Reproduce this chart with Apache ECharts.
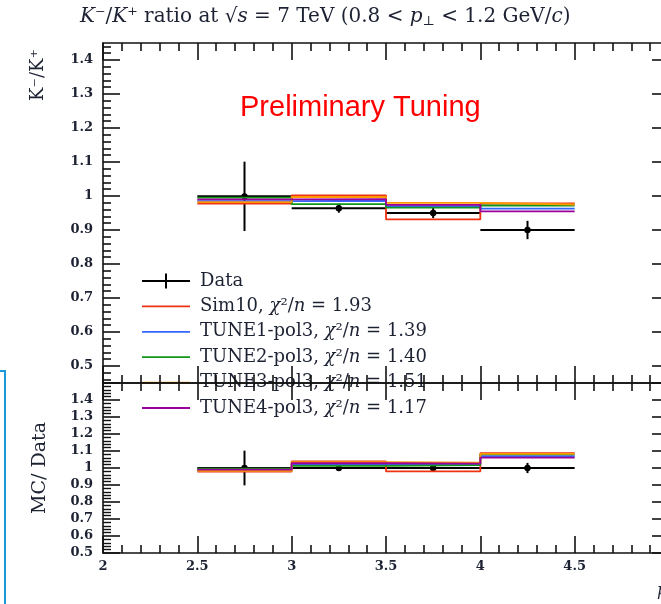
<!DOCTYPE html>
<html><head><meta charset="utf-8">
<script src="https://cdn.jsdelivr.net/npm/echarts@6/dist/echarts.min.js"></script>
<style>html,body{margin:0;padding:0;background:#fff}#c{width:661px;height:604px}</style>
</head><body><div id="c"></div>
<script>
// ---- data ----
const binEdges = [2.5, 3.0, 3.5, 4.0, 4.5];
const dataVal = [0.999, 0.964, 0.950, 0.900];
const dataErr = [0.102, 0.013, 0.015, 0.027];
const mcNames = ['Sim10', 'TUNE1-pol3', 'TUNE2-pol3', 'TUNE3-pol3', 'TUNE4-pol3'];
const mcChi2 = ['1.93', '1.39', '1.40', '1.51', '1.17'];
const mcColors = ['#EE3311', '#3366FF', '#109618', '#FF9900', '#990099'];
const sim10 = [0.978, 1.002, 0.931, 0.978];
const tune1 = [0.985, 0.986, 0.970, 0.963];
const tune2 = [0.995, 0.976, 0.966, 0.972];
const tune3 = [0.982, 0.997, 0.980, 0.975];
const tune4 = [0.990, 0.991, 0.974, 0.955];
const mcValues = [sim10, tune1, tune2, tune3, tune4];
const yMajorTop = [0.5, 0.6, 0.7, 0.8, 0.9, 1.0, 1.1, 1.2, 1.3, 1.4];

const yMinorTop = [];
for (let k = 46; k <= 144; k += 2) { if (k % 10 !== 0) yMinorTop.push(k / 100); }

const SERIF = '"DejaVu Serif", "Liberation Serif", serif';
const INK = '#1d2233';
const FRAME = '#111';

function stepPoints(vals) {
  return binEdges.map((e, i) => [e, vals[Math.min(i, vals.length - 1)]]);
}
const dataPts = dataVal.map((v, i) => [(binEdges[i] + binEdges[i + 1]) / 2, v, dataErr[i], binEdges[i], binEdges[i + 1]]);
const ratioPts = dataVal.map((v, i) => [(binEdges[i] + binEdges[i + 1]) / 2, 1, dataErr[i] / v, binEdges[i], binEdges[i + 1]]);

function renderData(params, api) {
  const x = api.value(0), y = api.value(1), e = api.value(2), lo = api.value(3), hi = api.value(4);
  const pL = api.coord([lo, y]), pR = api.coord([hi, y]);
  const pT = api.coord([x, y + e]), pB = api.coord([x, y - e]);
  const pC = api.coord([x, y]);
  const st = { stroke: '#000', lineWidth: 2 };
  return { type: 'group', children: [
    { type: 'line', shape: { x1: pL[0], y1: pL[1], x2: pR[0], y2: pR[1] }, style: st },
    { type: 'line', shape: { x1: pT[0], y1: pT[1], x2: pB[0], y2: pB[1] }, style: st },
    { type: 'circle', shape: { cx: pC[0], cy: pC[1], r: 3.2 }, style: { fill: '#000' } }
  ]};
}

function xAxisCfg(grid, pos, labels) {
  return {
    type: 'value', gridIndex: grid, position: pos, min: 2, max: 5, interval: 0.5, z: 5,
    axisLine: { show: true, onZero: false, lineStyle: { color: FRAME, width: 1.6 } },
    axisTick: { show: true, inside: true, length: 17, lineStyle: { color: FRAME, width: 1.6 } },
    minorTick: { show: true, splitNumber: 5, length: 8, lineStyle: { color: FRAME, width: 1.6 } },
    axisLabel: { show: labels, margin: 7, color: INK, fontFamily: SERIF, fontWeight: 'bold', fontSize: 13,
      formatter: v => (v > 4.99 ? '' : String(+v.toFixed(1))) },
    splitLine: { show: false }, minorSplitLine: { show: false }
  };
}
function yTopAxis(pos, values, len, withLine, labels) {
  return {
    type: 'value', gridIndex: 0, position: pos, min: 0.45, max: 1.45, z: 5,
    axisLine: { show: withLine, onZero: false, lineStyle: { color: FRAME, width: 1.6 } },
    axisTick: { show: true, inside: true, length: len, customValues: values, lineStyle: { color: FRAME, width: 1.6 } },
    axisLabel: { show: labels, customValues: yMajorTop, margin: 10, color: INK, fontFamily: SERIF, fontWeight: 'bold', fontSize: 13,
      formatter: v => String(+(+v).toFixed(1)) },
    splitLine: { show: false }
  };
}
function yRatioAxis(pos, labels) {
  return {
    type: 'value', gridIndex: 1, position: pos, min: 0.5, max: 1.5, interval: 0.1, z: 5,
    axisLine: { show: true, onZero: false, lineStyle: { color: FRAME, width: 1.6 } },
    axisTick: { show: true, inside: true, length: 17, lineStyle: { color: FRAME, width: 1.6 } },
    minorTick: { show: true, splitNumber: 5, length: 8, lineStyle: { color: FRAME, width: 1.4 } },
    axisLabel: { show: labels, margin: 10, color: INK, fontFamily: SERIF, fontWeight: 'bold', fontSize: 13,
      formatter: v => (v > 1.45 ? '' : String(+(+v).toFixed(1))) },
    splitLine: { show: false }, minorSplitLine: { show: false }
  };
}

const series = [];
series.push({ name: 'Data', type: 'custom', xAxisIndex: 0, yAxisIndex: 0, renderItem: renderData, data: dataPts,
  encode: { x: 0, y: 1 }, itemStyle: { color: '#000' }, z: 1 });
series.push({ name: 'Data', type: 'custom', xAxisIndex: 2, yAxisIndex: 4, renderItem: renderData, data: ratioPts,
  encode: { x: 0, y: 1 }, itemStyle: { color: '#000' }, z: 1 });
mcNames.forEach((n, k) => {
  series.push({ name: n, type: 'line', xAxisIndex: 0, yAxisIndex: 0, step: 'end', showSymbol: false, symbol: 'none',
    data: stepPoints(mcValues[k]), lineStyle: { color: mcColors[k], width: 1.8 }, itemStyle: { color: mcColors[k] }, z: 2 });
  series.push({ name: n, type: 'line', xAxisIndex: 2, yAxisIndex: 4, step: 'end', showSymbol: false, symbol: 'none',
    data: stepPoints(mcValues[k].map((v, i) => v / dataVal[i])), lineStyle: { color: mcColors[k], width: 1.8 }, itemStyle: { color: mcColors[k] }, z: 2 });
});

const mcIcon = 'path://M0,0 M48,16 M0,7.1 H48 V8.9 H0 Z';
const dataIcon = 'path://M0,0 M48,16 M0,7 H48 V9 H0 Z M23,0.5 H25 V15.5 H23 Z';

const option = {
  animation: false,
  backgroundColor: '#fff',
  title: {
    left: 80, top: 6, padding: 0,
    text: '{i|K}⁻/{i|K}⁺ ratio at √{i|s} = 7 TeV (0.8 < {i|p}{sub|⊥} < 1.2 GeV/{i|c})',
    textStyle: { fontFamily: SERIF, fontSize: 20, fontWeight: 'normal', color: INK,
      rich: { i: { fontFamily: SERIF, fontSize: 20, fontStyle: 'italic', color: INK },
              sub: { fontFamily: SERIF, fontSize: 13, color: INK, padding: [9, 0, 0, 0] } } }
  },
  grid: [
    { left: 103, top: 43, width: 566, height: 340, outerBoundsMode: 'none', containLabel: false },
    { left: 103, top: 383, width: 566, height: 170, outerBoundsMode: 'none', containLabel: false }
  ],
  xAxis: [xAxisCfg(0, 'bottom', false), xAxisCfg(0, 'top', false), xAxisCfg(1, 'bottom', true), xAxisCfg(1, 'top', false)],
  yAxis: [
    yTopAxis('left', yMajorTop, 17, true, true),
    yTopAxis('left', yMinorTop, 8, false, false),
    yTopAxis('right', yMajorTop, 17, true, false),
    yTopAxis('right', yMinorTop, 8, false, false),
    yRatioAxis('left', true),
    yRatioAxis('right', false)
  ],
  legend: {
    left: 142, top: 271, padding: 0, orient: 'vertical', itemWidth: 48, itemHeight: 16, itemGap: 5.4, z: 1,
    selectedMode: false,
    data: [{ name: 'Data', icon: dataIcon }].concat(mcNames.map(n => ({ name: n, icon: mcIcon }))),
    formatter: n => {
      const k = mcNames.indexOf(n);
      if (k < 0) return n;
      return n + ', {i|χ}²/{i|n} = ' + mcChi2[k];
    },
    textStyle: { fontFamily: SERIF, fontSize: 18, color: INK, lineHeight: 20, padding: [0, 0, 0, 5],
      rich: { i: { fontFamily: SERIF, fontSize: 18, fontStyle: 'italic', color: INK, lineHeight: 20 } } }
  },
  graphic: [
    { type: 'text', x: 240, y: 108, z: 10, style: { text: 'Preliminary Tuning', fill: '#ff0000',
        font: '29px "Liberation Sans", Arial, sans-serif', verticalAlign: 'middle' } },
    { type: 'text', x: 38, y: 75, rotation: Math.PI / 2, z: 10, style: { text: 'K⁻/K⁺', fill: INK,
        font: '18px ' + SERIF, align: 'center', verticalAlign: 'middle' } },
    { type: 'text', x: 40, y: 468, rotation: Math.PI / 2, z: 10, style: { text: 'MC/ Data', fill: INK,
        font: '19px ' + SERIF, align: 'center', verticalAlign: 'middle' } },
    { type: 'text', x: 657, y: 591, z: 10, style: { text: 'p⊥ [GeV/c]', fill: INK,
        font: 'italic 16px ' + SERIF, verticalAlign: 'middle' } },
    { type: 'polyline', z: 10, shape: { points: [[0, 371], [5, 371], [5, 604]] },
      style: { stroke: '#1a9ad6', lineWidth: 2, fill: null } }
  ],
  series: series
};
echarts.init(document.getElementById('c')).setOption(option);
</script>
</body></html>
